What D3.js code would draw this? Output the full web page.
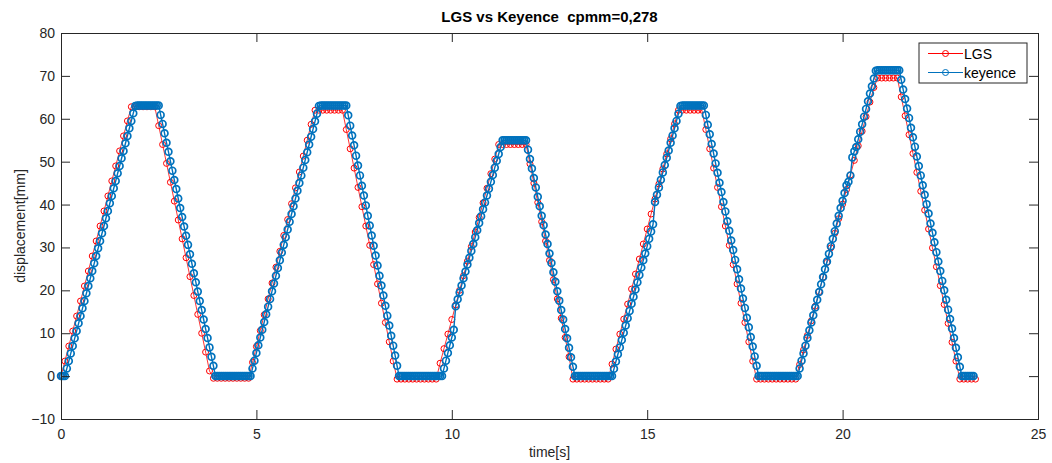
<!DOCTYPE html>
<html>
<head>
<meta charset="utf-8">
<script src="https://d3js.org/d3.v7.min.js"></script>
<style>
  body { margin: 0; background: #fff; }
  text { font-family: "Liberation Sans", Arial, sans-serif; fill: #262626; }
</style>
</head>
<body>
<script>
var w = 1052, h = 463;

// sample periods [s]
var keyenceDt = 0.05;
var lgsDt = 0.1;

// keyence displacement [mm], one value every keyenceDt seconds from t=0
var keyence = [
  0, 0, 0,
  1.8, 3.5, 5.3, 7.0, 8.8, 10.5, 12.3, 14.0, 15.8, 17.5, 19.3, 21.0, 22.8, 24.5, 26.3, 28.0,
  29.8, 31.5, 33.3, 35.0, 36.8, 38.5, 40.3, 42.0, 43.8, 45.5, 47.3, 49.0, 50.8, 52.5, 54.3,
  56.0, 57.8, 59.5, 61.3, 63.0,
  63.1, 63.1, 63.1, 63.1, 63.1, 63.1, 63.1, 63.1, 63.1, 63.1, 63.1, 63.1,
  60.9, 58.8, 56.6, 54.4, 52.3, 50.1, 47.9, 45.7, 43.6, 41.4, 39.2, 37.1, 34.9, 32.7, 30.6,
  28.4, 26.2, 24.0, 21.9, 19.7, 17.5, 15.4, 13.2, 11.0, 8.9, 6.7, 4.5, 2.4, 0,
  0, 0, 0, 0, 0, 0, 0, 0, 0, 0, 0, 0, 0, 0, 0, 0, 0, 0,
  1.8, 3.6, 5.4, 7.2, 9.0, 10.8, 12.6, 14.4, 16.2, 18.0, 19.8, 21.6, 23.4, 25.2, 27.0, 28.8,
  30.6, 32.4, 34.2, 36.0, 37.8, 39.6, 41.4, 43.2, 45.0, 46.8, 48.6, 50.4, 52.2, 54.0, 55.8,
  57.6, 59.4, 61.2, 63.0,
  63.1, 63.1, 63.1, 63.1, 63.1, 63.1, 63.1, 63.1, 63.1, 63.1, 63.1, 63.1, 63.1, 63.1,
  60.8, 58.4, 56.1, 53.8, 51.4, 49.1, 46.8, 44.4, 42.1, 39.8, 37.4, 35.1, 32.8, 30.4, 28.1,
  25.8, 23.4, 21.1, 18.8, 16.4, 14.1, 11.8, 9.4, 7.1, 4.8, 2.4, 0,
  0, 0, 0, 0, 0, 0, 0, 0, 0, 0, 0, 0, 0, 0, 0, 0, 0, 0, 0, 0, 0, 0,
  1.8, 3.6, 5.4, 7.2, 9.0, 10.8,
  16.3,
  17.9, 19.5, 21.1, 22.8, 24.4, 26.0, 27.6, 29.2, 30.8, 32.4, 34.0, 35.7, 37.3, 38.9, 40.5,
  42.1, 43.7, 45.3, 46.9, 48.6, 50.2, 51.8, 53.4, 55.0,
  55.0, 55.0, 55.0, 55.0, 55.0, 55.0, 55.0, 55.0, 55.0, 55.0, 55.0, 55.0,
  52.8, 50.6, 48.4, 46.2, 44.0, 41.8, 39.6, 37.4, 35.2, 33.0, 30.8, 28.6, 26.4, 24.2, 22.0,
  19.8, 17.6, 15.4, 13.2, 11.0, 8.8, 6.6, 4.4, 2.2, 0,
  0, 0, 0, 0, 0, 0, 0, 0, 0, 0, 0, 0, 0, 0, 0, 0, 0, 0, 0,
  1.7, 3.4, 5.1, 6.7, 8.4, 10.1, 11.8, 13.5, 15.2, 16.9, 18.5, 20.2, 21.9, 23.6, 25.3, 27.0,
  28.6, 30.3, 32.0, 33.7, 35.4,
  40.6,
  42.3, 44.0, 45.8, 47.5, 49.2, 50.9, 52.6, 54.4, 56.1, 57.8, 59.5, 61.2, 63.0,
  63.1, 63.1, 63.1, 63.1, 63.1, 63.1, 63.1, 63.1, 63.1, 63.1, 63.1, 63.1,
  60.9, 58.6, 56.4, 54.1, 51.9, 49.6, 47.4, 45.1, 42.9, 40.6, 38.4, 36.1, 33.9, 31.6, 29.4,
  27.1, 24.9, 22.6, 20.4, 18.1, 15.9, 13.6, 11.4, 9.1, 6.9, 4.6, 2.4, 0,
  0, 0, 0, 0, 0, 0, 0, 0, 0, 0, 0, 0, 0, 0, 0, 0, 0, 0, 0, 0,
  1.8, 3.6, 5.3, 7.1, 8.9, 10.7, 12.5, 14.2, 16.0, 17.8, 19.6, 21.4, 23.1, 24.9, 26.7, 28.5,
  30.3, 32.0, 33.8, 35.6, 37.4, 39.2, 40.9, 42.7, 44.5, 45.3, 46.8, 51.0, 52.4, 53.4, 55.2,
  57.0, 58.7, 60.5, 62.3, 64.1, 65.9, 67.6, 69.4, 71.2,
  71.3, 71.3, 71.3, 71.3, 71.3, 71.3, 71.3, 71.3, 71.3, 71.3, 71.3, 71.3,
  69.1, 66.8, 64.6, 62.4, 60.2, 57.9, 55.7, 53.5, 51.2, 49.0, 46.8, 44.5, 42.3, 40.1, 37.9,
  35.6, 33.4, 31.2, 28.9, 26.7, 24.5, 22.2, 20.0, 17.8, 15.5, 13.3, 11.1, 8.9, 6.6, 4.4, 2.2, 0,
  0, 0, 0, 0, 0, 0
];

// LGS displacement [mm], one value every lgsDt seconds from t=0
var lgs = [
  0, 3.5, 7.0, 10.5, 14.0, 17.5, 21.0, 24.5, 28.0, 31.5, 35.0, 38.5, 42.0, 45.5, 49.0, 52.5,
  56.0, 59.5, 62.8,
  62.8, 62.8, 62.8, 62.8, 62.8, 62.8,
  58.4, 54.0, 49.6, 45.2, 40.8, 36.4, 32.0, 27.6, 23.2, 18.8, 14.4, 10.0, 5.6, 1.2,
  -0.5, -0.5, -0.5, -0.5, -0.5, -0.5, -0.5, -0.5, -0.5, -0.5,
  3.2, 6.9, 10.6, 14.3, 18.0, 21.7, 25.4, 29.1, 32.8, 36.5, 40.2, 43.9, 47.6, 51.3, 55.0,
  58.7, 62.0,
  62.0, 62.0, 62.0, 62.0, 62.0, 62.0, 62.0,
  57.5, 53.0, 48.5, 44.0, 39.5, 35.0, 30.5, 26.0, 21.5, 17.0, 12.5, 8.0, 3.5, -0.7,
  -0.7, -0.7, -0.7, -0.7, -0.7, -0.7, -0.7, -0.7, -0.7, -0.7,
  3.0, 6.4, 9.8, 13.2, 16.6, 20.0, 23.4, 26.8, 30.2, 33.6, 37.0, 40.4, 43.8, 47.2, 50.6, 54.0,
  54.0, 54.0, 54.0, 54.0, 54.0, 54.0, 54.0,
  49.5, 45.0, 40.5, 36.0, 31.5, 27.0, 22.5, 18.0, 13.5, 9.0, 4.5, -0.7, -0.7,
  -0.7, -0.7, -0.7, -0.7, -0.7, -0.7, -0.7, -0.7,
  2.8, 6.3, 9.8, 13.3, 16.8, 20.3, 23.8, 27.3, 30.8, 34.3, 37.8, 41.3, 44.8, 48.3, 51.8,
  55.3, 58.8, 62.0,
  62.0, 62.0, 62.0, 62.0, 62.0, 62.0,
  57.5, 53.0, 48.5, 44.0, 39.5, 35.0, 30.5, 26.0, 21.5, 17.0, 12.5, 8.0, 3.5, -0.7,
  -0.7, -0.7, -0.7, -0.7, -0.7, -0.7, -0.7, -0.7, -0.7, -0.7,
  2.7, 6.1, 9.5, 12.9, 16.3, 19.7, 23.1, 26.5, 29.9, 33.3, 36.7, 40.1, 43.5, 46.9, 50.3,
  53.7, 57.1, 60.5, 63.9, 67.3, 69.5,
  69.5, 69.5, 69.5, 69.5, 69.5,
  65.1, 60.7, 56.3, 51.9, 47.5, 43.1, 38.7, 34.3, 29.9, 25.5, 21.1, 16.7, 12.3, 7.9, 3.5, -0.7,
  -0.7, -0.7, -0.7, -0.7
];

var xTicks = [0, 5, 10, 15, 20, 25];
var yTicks = [-10, 0, 10, 20, 30, 40, 50, 60, 70, 80];
var seriesNames = ["LGS", "keyence"];
var seriesColors = ["#FF0000", "#0072BD"];

var margin = {left: 61, top: 33, right: 14, bottom: 44};
var pw = w - margin.left - margin.right,
    ph = h - margin.top - margin.bottom;

var x = d3.scaleLinear().domain([0, 25]).range([0, pw]);
var y = d3.scaleLinear().domain([-10, 80]).range([ph, 0]);

var svg = d3.select("body").append("svg")
  .attr("width", w)
  .attr("height", h);

var g = svg.append("g")
  .attr("transform", "translate(" + margin.left + "," + margin.top + ")");

var lgsData = lgs.map(function(v, i) { return {t: i * lgsDt, v: v}; });
var keyData = keyence.map(function(v, i) { return {t: i * keyenceDt, v: v}; });

var line = d3.line()
  .x(function(d) { return x(d.t); })
  .y(function(d) { return y(d.v); });

// marker look per series: LGS thin, keyence heavier (denser band in the original)
var lineWidths = [0.8, 1.4];
var markerR = [3, 3.4];
var markerW = [1, 1.7];

[lgsData, keyData].forEach(function(data, k) {
  g.append("path")
    .datum(data)
    .attr("d", line)
    .attr("fill", "none")
    .attr("stroke", seriesColors[k])
    .attr("stroke-width", lineWidths[k]);

  g.selectAll(".m" + k)
    .data(data)
    .enter()
    .append("circle")
    .attr("class", "m" + k)
    .attr("cx", function(d) { return x(d.t); })
    .attr("cy", function(d) { return y(d.v); })
    .attr("r", markerR[k])
    .attr("fill", "none")
    .attr("stroke", seriesColors[k])
    .attr("stroke-width", markerW[k]);
});

// axes (ticks inside, mirrored on top / right)
var axisColor = "#262626";
var tl = 9;

var xAxis = g.append("g")
  .attr("transform", "translate(0," + ph + ")")
  .call(d3.axisBottom(x).tickValues(xTicks).tickSize(-tl).tickPadding(10));
var yAxis = g.append("g")
  .call(d3.axisLeft(y).tickValues(yTicks).tickSize(-tl).tickPadding(6));
var xTop = g.append("g")
  .call(d3.axisTop(x).tickValues(xTicks).tickSize(-tl).tickFormat(""));
var yRight = g.append("g")
  .attr("transform", "translate(" + pw + ",0)")
  .call(d3.axisRight(y).tickValues(yTicks).tickSize(-tl).tickFormat(""));

[xAxis, yAxis, xTop, yRight].forEach(function(a) {
  a.select(".domain").attr("stroke", axisColor).attr("stroke-width", 1);
  a.selectAll(".tick line").attr("stroke", axisColor);
  a.selectAll("text")
    .style("font-size", "14px")
    .style("font-family", "'Liberation Sans', Arial, sans-serif")
    .attr("fill", axisColor);
});

svg.append("text")
  .attr("x", margin.left + pw / 2)
  .attr("y", 22)
  .attr("text-anchor", "middle")
  .style("font-size", "15px")
  .style("font-weight", "bold")
  .style("fill", "#000")
  .style("white-space", "pre")
  .text("LGS vs Keyence  cpmm=0,278");

svg.append("text")
  .attr("x", margin.left + pw / 2)
  .attr("y", 457)
  .attr("text-anchor", "middle")
  .style("font-size", "14px")
  .text("time[s]");

svg.append("text")
  .attr("transform", "translate(25," + (margin.top + ph / 2) + ") rotate(-90)")
  .attr("text-anchor", "middle")
  .style("font-size", "14px")
  .text("displacement[mm]");

// legend
var legend = svg.append("g").attr("transform", "translate(919,43)");
legend.append("rect")
  .attr("width", 108)
  .attr("height", 40)
  .attr("fill", "#fff")
  .attr("stroke", axisColor)
  .attr("stroke-width", 1);

seriesNames.forEach(function(name, k) {
  var ly = 10.5 + k * 19;
  legend.append("line")
    .attr("x1", 9).attr("x2", 44)
    .attr("y1", ly).attr("y2", ly)
    .attr("stroke", seriesColors[k])
    .attr("stroke-width", 1);
  legend.append("circle")
    .attr("cx", 26.5).attr("cy", ly)
    .attr("r", 3)
    .attr("fill", "none")
    .attr("stroke", seriesColors[k]);
  legend.append("text")
    .attr("x", 45)
    .attr("y", ly + 5)
    .style("font-size", "14px")
    .style("fill", "#000")
    .text(name);
});
</script>
</body>
</html>
